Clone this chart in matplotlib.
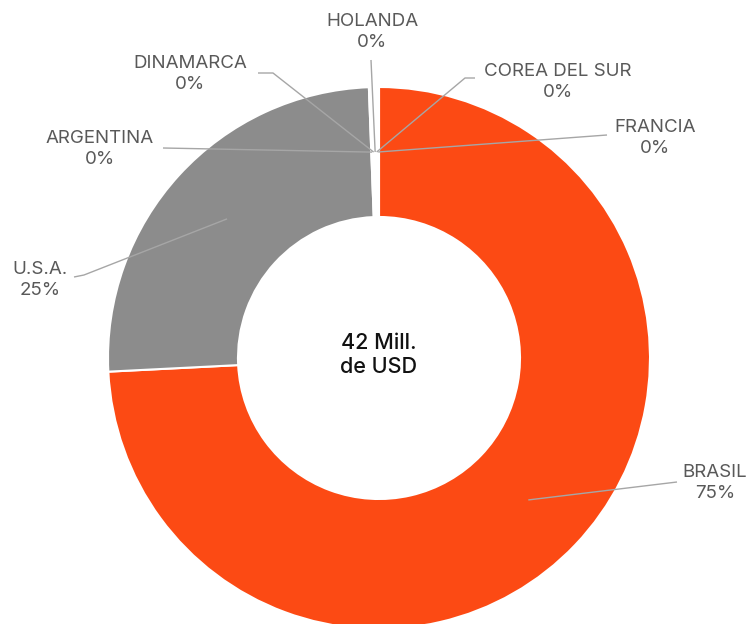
import numpy as np
import matplotlib
matplotlib.use("Agg")
import matplotlib.pyplot as plt

# ---- data ----
countries = ["BRASIL", "U.S.A.", "ARGENTINA", "DINAMARCA", "HOLANDA", "COREA DEL SUR", "FRANCIA"]
values = [31.2, 10.6, 0.05, 0.05, 0.05, 0.05, 0.05]   # Mill. USD
pct_labels = ["75%", "25%", "0%", "0%", "0%", "0%", "0%"]
center_text = "42 Mill.\nde USD"

colors = ["#FC4A14", "#8C8C8C", "#F7F7F7", "#F7F7F7", "#F7F7F7", "#F7F7F7", "#F7F7F7"]

W, H = 752, 624
fig = plt.figure(figsize=(W / 100, H / 100), dpi=100)
ax = fig.add_axes([0, 0, 1, 1])
ax.axis("off")

cx, cy = 379, H - 358
R, r_in = 271, 141
wedges, _ = ax.pie(values, colors=colors, startangle=90, counterclock=False,
                   center=(cx, cy), radius=R,
                   wedgeprops=dict(width=R - r_in, edgecolor="white", linewidth=1.5))
ax.set_xlim(0, W)
ax.set_ylim(0, H)
ax.set_aspect("equal")

# label layout (pixel coords, y from top): text centre, line end, optional elbow
layout = {
    "BRASIL":        dict(text=(715, 483), end=(677, 482), elbow=None),
    "U.S.A.":        dict(text=(40, 280), end=(74, 277), elbow=(84, 275)),
    "ARGENTINA":     dict(text=(100, 149), end=(163, 148), elbow=None),
    "DINAMARCA":     dict(text=(190, 74), end=(258, 73), elbow=(273, 73)),
    "HOLANDA":       dict(text=(372, 32), end=(371, 60), elbow=None),
    "COREA DEL SUR": dict(text=(558, 82), end=(475, 78), elbow=(465, 78)),
    "FRANCIA":       dict(text=(655, 138), end=(607, 135), elbow=None),
}

r_mid = (R + r_in) / 2
for w, name, pct in zip(wedges, countries, pct_labels):
    ang = np.deg2rad((w.theta1 + w.theta2) / 2)
    ax_x = cx + r_mid * np.cos(ang)
    ax_y = cy + r_mid * np.sin(ang)
    lay = layout[name]
    pts = [(ax_x, ax_y)]
    if lay["elbow"] is not None:
        pts.append((lay["elbow"][0], H - lay["elbow"][1]))
    pts.append((lay["end"][0], H - lay["end"][1]))
    xs, ys = zip(*pts)
    ax.plot(xs, ys, color="#A6A6A6", lw=1.0, solid_capstyle="butt", zorder=5)
    tx, ty = lay["text"]
    ax.text(tx, H - ty, f"{name}\n{pct}", ha="center", va="center",
            fontsize=13.5, color="#595959", family="Inter", linespacing=1.25, zorder=6)

ax.text(cx, H - 355, center_text, ha="center", va="center", fontsize=15.5,
        color="#111111", family="Inter", fontweight="medium", linespacing=1.3)

fig.savefig("out.png", dpi=100)
